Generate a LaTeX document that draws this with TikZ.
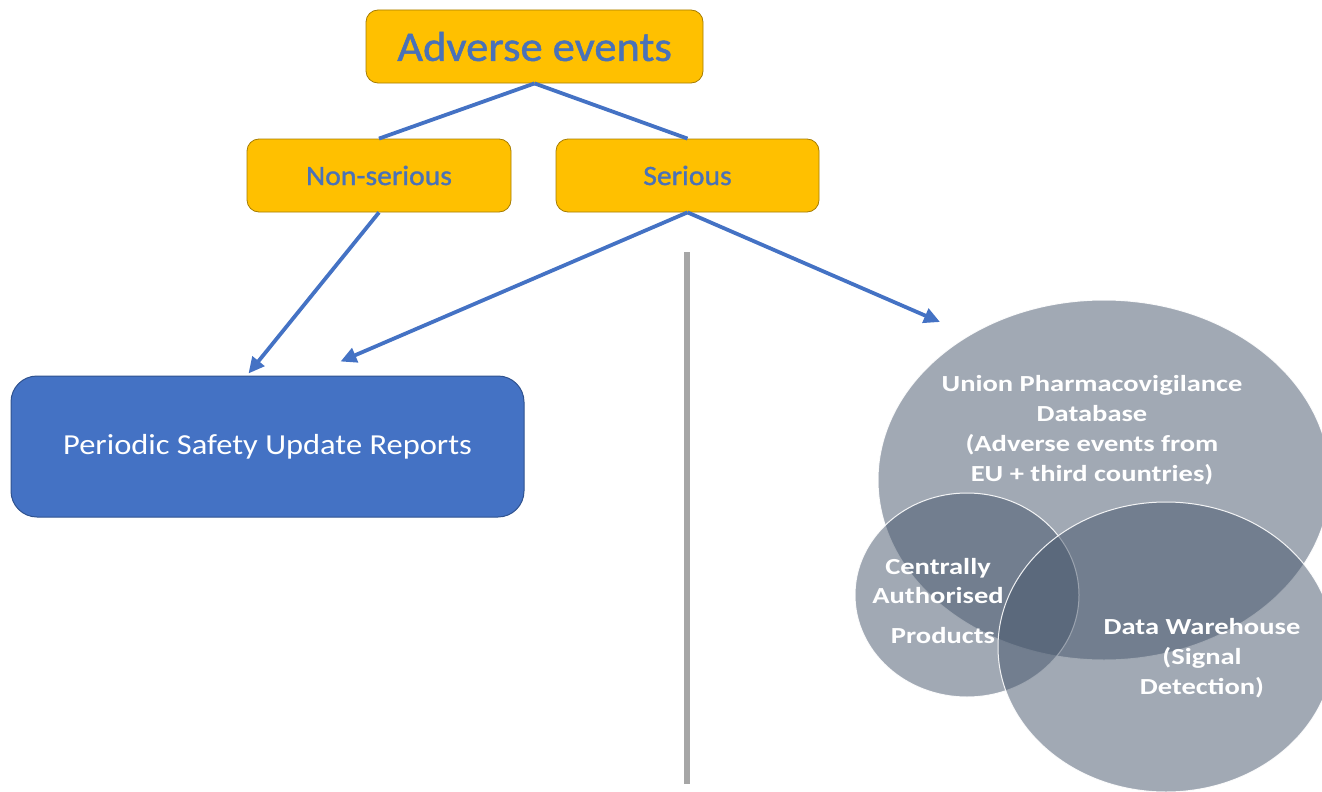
\documentclass[tikz,border=0pt]{standalone}
\usepackage{fontspec}
\setmainfont{Carlito}
\newfontfamily\yfont[FakeStretch=1.06,FakeBold=1.2]{Carlito}
\newfontfamily\pfont[FakeStretch=1.12]{Carlito}
\newfontfamily\vfont[FakeStretch=1.24]{Carlito}
\usetikzlibrary{arrows.meta,shapes.geometric,calc}
\definecolor{ybox}{HTML}{FFC000}
\definecolor{yedge}{HTML}{A67C00}
\definecolor{bline}{HTML}{4472C4}
\definecolor{btext}{HTML}{4A72B8}
\definecolor{bedge}{HTML}{2F528F}
\definecolor{vgray}{HTML}{A6A6A6}
\definecolor{vennc}{HTML}{44546A}
\tikzset{
  ybx/.style={draw=yedge, line width=0.8pt, fill=ybox, rounded corners=12pt, text=btext, align=center, inner sep=0pt},
  conn/.style={draw=bline, line width=3.8pt},
  arr/.style={conn, -{Triangle[length=16pt,width=15pt]}},
  venn/.style={ellipse, draw=white, line width=1pt, fill=vennc, fill opacity=0.5, draw opacity=0.9, inner sep=0pt},
  vlab/.style={text=white, font=\vfont\bfseries\fontsize{23}{30}\selectfont, align=center}
}
\begin{document}
\begin{tikzpicture}[x=1pt,y=-1pt]
\useasboundingbox (0,0) rectangle (1322,792);
% boxes
\node[ybx, minimum width=337pt, minimum height=73pt, font=\yfont\fontsize{42}{48}\selectfont] (ae) at (534.5,46.5) {Adverse events};
\node[ybx, minimum width=264pt, minimum height=73pt, font=\yfont\fontsize{28}{32}\selectfont] (ns) at (379,175.5) {Non-serious};
\node[ybx, minimum width=263pt, minimum height=73pt, font=\yfont\fontsize{28}{32}\selectfont] (ser) at (687.5,175.5) {Serious};
\node[draw=bedge, line width=1pt, fill=bline, rounded corners=26pt, minimum width=513pt, minimum height=141pt, text=white, font=\pfont\fontsize{29}{34}\selectfont, inner sep=0pt] (psur) at (267.5,446.5) {Periodic Safety Update Reports};
% vertical divider
\coordinate (vtop) at (687,252);
\coordinate (vbot) at (687,784);
\draw[vgray, line width=6pt] (vtop) -- (vbot);
% venn
\node[venn, minimum width=452pt, minimum height=360pt] (upd) at (1104,480) {};
\node[venn, minimum width=224pt, minimum height=204pt] (cap) at (967,595) {};
\node[venn, minimum width=336pt, minimum height=290pt] (dw) at (1166,647) {};
\node[vlab] (updt) at (1092,430) {Union Pharmacovigilance\\Database\\(Adverse events from\\EU + third countries)};
\node[vlab, font=\vfont\bfseries\fontsize{23}{29}\selectfont] (capt) at (938,581) {Centrally\\Authorised};
\node[vlab] (capt2) at (943,636) {Products};
\node[vlab] (dwt) at (1202,658) {Data Warehouse\\(Signal\\Detection)};
% connectors
\coordinate (updin) at (940,322);
\draw[conn] (ae.south) -- (ns.north);
\draw[conn] (ae.south) -- (ser.north);
\draw[arr] (ns.south) -- ([xshift=-19pt,yshift=2pt]psur.north);
\draw[arr] (ser.south) -- ([xshift=73pt,yshift=14pt]psur.north);
\draw[arr] (ser.south) -- (updin);
\end{tikzpicture}
\end{document}
